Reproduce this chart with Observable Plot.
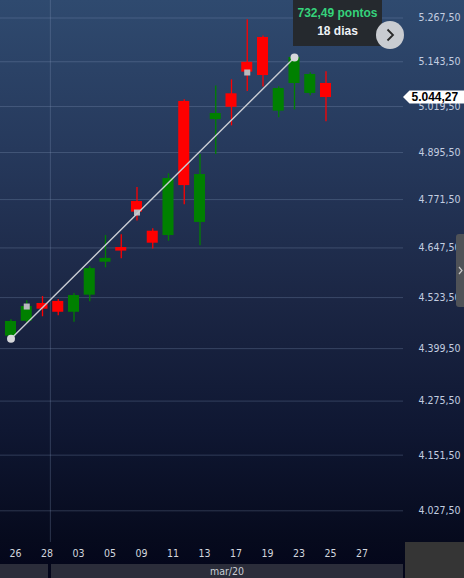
<!DOCTYPE html>
<html><head><meta charset="utf-8">
<script src="https://cdn.jsdelivr.net/npm/d3@7"></script>
<script src="https://cdn.jsdelivr.net/npm/@observablehq/plot@0.6"></script>
<style>
html,body{margin:0;padding:0;background:#03051a;}
#wrap{position:relative;width:464px;height:578px;overflow:hidden;font-family:"DejaVu Sans Condensed","Liberation Sans",sans-serif;
background:linear-gradient(180deg,#2f4a6f 0px,#26395c 150px,#1b2644 300px,#0f1732 430px,#060a1d 540px,#03051a 578px);}
.ov{position:absolute;}
#tip{left:293px;top:0;width:89px;height:46px;background:#25292e;font-family:"Liberation Sans",sans-serif;font-weight:bold;font-size:12px;text-align:center;}
#tip .a{position:absolute;left:0;right:0;top:6px;color:#35d27b;}
#tip .b{position:absolute;left:0;right:0;top:24px;color:#eef2f7;}
#btn{left:376px;top:21px;width:28px;height:28px;border-radius:50%;background:#c9ccd1;}
#tab{left:456px;top:234px;width:8px;height:73px;background:#4f5257;border-radius:3px 0 0 3px;}
.bar{background:#2b2d3a;height:14px;top:564px;}
#mon{left:51px;width:352px;color:#c8ccd4;font-size:10.5px;line-height:14px;text-align:center;}
#lft{left:0;width:48px;}
#rbox{left:405px;top:542px;width:59px;height:36px;background:#353535;}
</style></head><body><div id="wrap"></div>
<script>
// Daily candles, 26 Feb – 25 Mar 2020 (index = trading day)
const opens  = [4429.5,4465.5,4509,4514,4487.5,4529.5,4611.5,4648.5,4766.5,4690,4679,5033.5,4712.5,4984,5054.5,5142,5212,5007,5083,5055.5,5083];
const highs  = [4469,4515.5,4526,4518.5,4533.5,4600,4679,4681,4803,4696,4839,5038,4890,5076,5093,5262.5,5216.5,5074,5156,5112.5,5115.5];
const lows   = [4423,4461,4476.5,4479,4463,4513,4597.5,4620,4716.5,4644.5,4664.5,4758,4653,4890,4967,5061,5073,4989,5010.5,5049,4978];
const closes = [4465,4501.5,4495,4487.5,4528.5,4595.5,4621,4639.5,4739,4659.5,4826.5,4808,4837,5000.5,5017.5,5114.5,5105,5069,5155.5,5108,5044.27];
const dateLabels = ["26","28","03","05","09","11","13","17","19","23","25","27"];
const labelIdx   = [0,2,4,6,8,10,12,14,16,18,20,22];
const monthBreaks = [2.5];
const monthLabel = "mar/20";
const yTicks = [4027.5,4151.5,4275.5,4399.5,4523.5,4647.5,4771.5,4895.5,5019.5,5143.5,5267.5];
const markerIdx = [1,8,15];
const markerVal = [4501.5,4738,5113.5];
const measureIdx = [0,18];
const measureVal = [4423.01,5155.5];

const candles = opens.map((o,i)=>({i, open:o, close:closes[i], high:highs[i], low:lows[i]}));
const up = candles.filter(d=>d.close>=d.open);
const down = candles.filter(d=>d.close<d.open);
const markers = markerIdx.map((i,k)=>({i, v:markerVal[k]}));
const measure = measureIdx.map((i,k)=>({i, v:measureVal[k]}));
const lastClose = closes[closes.length-1];

const loc = d3.formatLocale({decimal:",",thousands:".",grouping:[3],currency:["R$",""]});
const fmt = loc.format(",.2f");
const labelMap = new Map(labelIdx.map((d,k)=>[d,dateLabels[k]]));
const GREEN="#008000", RED="#ff0000";
const hw = 0.35;

const plot = Plot.plot({
  width:464, height:563,
  marginLeft:0, marginRight:61, marginTop:0, marginBottom:21,
  style:{background:"transparent", overflow:"visible", fontFamily:'"DejaVu Sans Condensed","Liberation Sans",sans-serif', fontSize:"10.5px"},
  x:{domain:[-0.6667,24.921]},
  y:{type:"log", domain:[3958.6,5318]},
  marks:[
    Plot.gridY(yTicks,{stroke:"#8597b8", strokeOpacity:0.3, strokeWidth:1}),
    Plot.gridX(monthBreaks,{stroke:"#8597b8", strokeOpacity:0.3, strokeWidth:1}),
    Plot.ruleX(up,{x:"i", y1:"low", y2:"high", stroke:GREEN, strokeWidth:1.3}),
    Plot.ruleX(down,{x:"i", y1:"low", y2:"high", stroke:RED, strokeWidth:1.3}),
    Plot.rect(up,{x1:d=>d.i-hw, x2:d=>d.i+hw, y1:"open", y2:"close", fill:GREEN}),
    Plot.rect(down,{x1:d=>d.i-hw, x2:d=>d.i+hw, y1:"open", y2:"close", fill:RED}),
    Plot.dot(markers,{x:"i", y:"v", symbol:"square", r:3.4, fill:"#b8b9be", stroke:"none"}),
    Plot.line(measure,{x:"i", y:"v", stroke:"#c9ccd3", strokeWidth:1.4}),
    Plot.dot(measure,{x:"i", y:"v", r:4, fill:"#d6d7da", stroke:"none"}),
    Plot.axisY({anchor:"right", ticks:yTicks, tickFormat:fmt, tickSize:0, tickPadding:15, fill:"#c3cde0", label:null}),
    Plot.axisX({ticks:labelIdx, tickFormat:d=>labelMap.get(d), tickSize:0, tickPadding:7, dx:4.5, fill:"#d3d7df", label:null})
  ]
});

const wrap = document.getElementById("wrap");
wrap.appendChild(plot);

// last price tag
const sy = plot.scale("y");
const yy = sy.apply(lastClose);
const svg = d3.select(plot);
svg.append("polygon")
  .attr("points", `403,${yy} 409.5,${yy-6.5} 464,${yy-6.5} 464,${yy+6.5} 409.5,${yy+6.5}`)
  .attr("fill","#ffffff");
svg.append("text").attr("x",411.5).attr("y",yy).attr("dy","0.36em")
  .attr("text-anchor","start")
  .attr("font-family",'"Liberation Sans",sans-serif').attr("font-size","12px").attr("font-weight","bold")
  .attr("fill","#000").text(fmt(lastClose));

// measurement tooltip
const tip = document.createElement("div");
tip.className="ov"; tip.id="tip";
tip.innerHTML = `<div class="a">${fmt(measureVal[1]-measureVal[0])} pontos</div><div class="b">${measureIdx[1]-measureIdx[0]} dias</div>`;
wrap.appendChild(tip);
const btn = document.createElement("div");
btn.className="ov"; btn.id="btn";
btn.innerHTML = `<svg width="28" height="28"><polyline points="11.5,8.5 17,14 11.5,19.5" fill="none" stroke="#2a2a2a" stroke-width="1.8"/></svg>`;
wrap.appendChild(btn);
const tab = document.createElement("div");
tab.className="ov"; tab.id="tab";
tab.innerHTML = `<svg width="8" height="73"><polyline points="3,33 6,36.5 3,40" fill="none" stroke="#c8c8c8" stroke-width="1.2"/></svg>`;
wrap.appendChild(tab);
// bottom bars
const lft = document.createElement("div"); lft.className="ov bar"; lft.id="lft"; wrap.appendChild(lft);
const mon = document.createElement("div"); mon.className="ov bar"; mon.id="mon"; mon.textContent=monthLabel; wrap.appendChild(mon);
const rbox = document.createElement("div"); rbox.className="ov"; rbox.id="rbox"; wrap.appendChild(rbox);
</script></body></html>
